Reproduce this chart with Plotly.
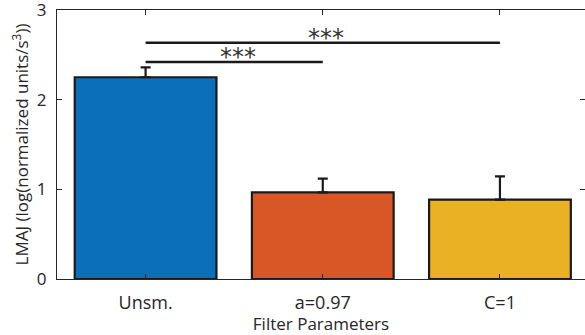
import plotly.graph_objects as go

categories = ["Unsm.", "a=0.97", "C=1"]
means = [2.25, 0.965, 0.885]
errors = [0.11, 0.155, 0.26]
colors = ["#0b6fba", "#d95627", "#eab125"]
sig_pairs = [(1, 2), (1, 3)]
sig_levels = [2.42, 2.635]
sig_labels = ["***", "***"]
sig_text_x = [1.52, 2.02]

xpos = list(range(1, len(categories) + 1))
axis_col = "#262626"
font_fam = "Open Sans"

fig = go.Figure()
fig.add_trace(go.Bar(
    x=xpos, y=means, width=0.8,
    marker=dict(color=colors, line=dict(color="#1a1a1a", width=2.2)),
    error_y=dict(type="data", array=errors, arrayminus=[0] * len(errors),
                 symmetric=False, color="#1a1a1a", thickness=2.2, width=5),
    showlegend=False,
))

for (a, b), lvl, lab, tx in zip(sig_pairs, sig_levels, sig_labels, sig_text_x):
    fig.add_trace(go.Scatter(
        x=[a, b], y=[lvl, lvl], mode="lines",
        line=dict(color="#1a1a1a", width=2.5), showlegend=False,
    ))
    fig.add_annotation(
        x=tx, y=lvl, text=lab, showarrow=False, xanchor="center", yanchor="bottom",
        yshift=-11, font=dict(family="DejaVu Sans", size=24, color="#333333"),
    )

fig.update_layout(
    width=585, height=335,
    margin=dict(l=57, r=0, t=10, b=56, autoexpand=False),
    paper_bgcolor="white", plot_bgcolor="white",
    font=dict(family=font_fam, size=17, color=axis_col),
    bargap=0.2,
)
fig.update_xaxes(
    range=[0.5, 3.48], tickmode="array", tickvals=xpos, ticktext=categories,
    showline=True, linecolor=axis_col, linewidth=1, mirror="ticks",
    ticks="inside", ticklen=5, tickcolor=axis_col, showgrid=False, zeroline=False,
    title=dict(text="Filter Parameters", standoff=2, font=dict(size=17)),
    tickfont=dict(size=18), ticklabelstandoff=7, automargin=False,
)
fig.update_yaxes(
    range=[0, 3.0], tickvals=[0, 1, 2, 3],
    showline=True, linecolor=axis_col, linewidth=1, mirror="ticks",
    ticks="inside", ticklen=5, tickcolor=axis_col, showgrid=False, zeroline=False,
    title=dict(text="LMAJ (log(normalized units/s<sup>3</sup>))", standoff=3, font=dict(size=17)),
    tickfont=dict(size=17), ticklabelstandoff=6, ticklabeloverflow="allow",
    automargin=False,
)

fig.write_html("out.html")
